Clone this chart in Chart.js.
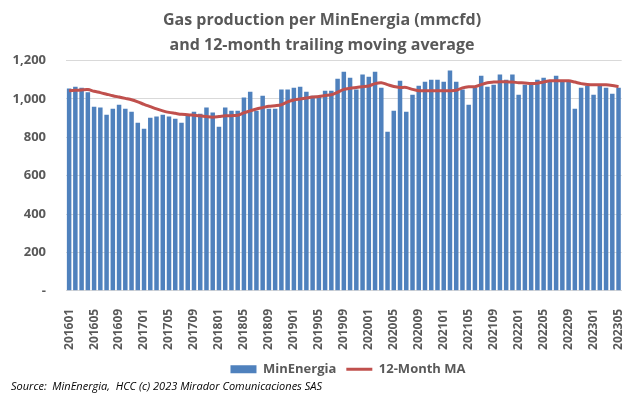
<!DOCTYPE html>
<html lang="en">
<head>
    <meta charset="UTF-8">
    <title>Gas production per MinEnergia</title>
    <script src="https://cdn.jsdelivr.net/npm/chart.js"></script>
    <style>
        body { margin: 0; background: #fff; }
    </style>
</head>
<body>
    <canvas id="gasChart" width="643" height="397"></canvas>
    <script>
        // monthly labels 201601 .. 202305
        const months = [
            '201601','201602','201603','201604','201605','201606','201607','201608','201609','201610','201611','201612',
            '201701','201702','201703','201704','201705','201706','201707','201708','201709','201710','201711','201712',
            '201801','201802','201803','201804','201805','201806','201807','201808','201809','201810','201811','201812',
            '201901','201902','201903','201904','201905','201906','201907','201908','201909','201910','201911','201912',
            '202001','202002','202003','202004','202005','202006','202007','202008','202009','202010','202011','202012',
            '202101','202102','202103','202104','202105','202106','202107','202108','202109','202110','202111','202112',
            '202201','202202','202203','202204','202205','202206','202207','202208','202209','202210','202211','202212',
            '202301','202302','202303','202304','202305'
        ];

        const minEnergia = [
            1054, 1064, 1059, 1035, 960, 955, 918, 949, 970, 949, 934, 876,
            845, 902, 908, 918, 908, 897, 876, 913, 934, 923, 955, 929,
            855, 955, 939, 939, 1007, 1038, 939, 1017, 949, 949, 1049, 1049,
            1059, 1064, 1038, 1017, 1017, 1043, 1043, 1106, 1142, 1111, 1049, 1127,
            1116, 1142, 1059, 829, 939, 1095, 934, 1022, 1069, 1090, 1100, 1100,
            1090, 1148, 1090, 1049, 970, 1059, 1121, 1064, 1074, 1127, 1100, 1127,
            1022, 1074, 1074, 1100, 1111, 1090, 1121, 1090, 1095, 949, 1059, 1069,
            1022, 1069, 1059, 1027, 1059
        ];

        const movingAvg = [
            1043, 1045, 1047, 1049, 1040, 1033, 1025, 1017, 1010, 1003, 996, 985,
            972, 960, 948, 938, 930, 925, 920, 918, 915, 912, 908, 905,
            908, 912, 913, 915, 928, 938, 948, 955, 962, 965, 970, 985,
            995, 1000, 1005, 1010, 1013, 1018, 1022, 1035, 1050, 1056, 1060, 1064,
            1068, 1080, 1085, 1075, 1065, 1060, 1060, 1050, 1043, 1043, 1043, 1043,
            1043, 1043, 1045, 1058, 1064, 1064, 1075, 1085, 1088, 1090, 1090, 1088,
            1085, 1083, 1080, 1082, 1088, 1095, 1095, 1095, 1095, 1088, 1080, 1076,
            1074, 1074, 1074, 1070, 1064
        ];

        const yTicks = [0, 200, 400, 600, 800, 1000, 1200];

        const grey = '#595959';

        // legend sits a little right of centre in the original
        const shiftLegend = {
            id: 'shiftLegend',
            afterLayout(chart) {
                chart.legend.left += 26;
                chart.legend.right += 26;
            }
        };

        const ctx = document.getElementById('gasChart').getContext('2d');

        const gasChart = new Chart(ctx, {
            type: 'bar',
            data: {
                labels: months,
                datasets: [{
                    type: 'line',
                    label: '12-Month MA',
                    data: movingAvg,
                    borderColor: '#C0504D',
                    backgroundColor: '#C0504D',
                    borderWidth: 3,
                    pointRadius: 0,
                    pointStyle: 'line',
                    tension: 0.3,
                    order: 0
                }, {
                    label: 'MinEnergia',
                    data: minEnergia,
                    backgroundColor: '#4F81BD',
                    pointStyle: 'rect',
                    barPercentage: 0.72,
                    categoryPercentage: 1.0,
                    order: 1
                }]
            },
            options: {
                responsive: false,
                animation: false,
                layout: { padding: { left: 11, right: 10, top: 0, bottom: 0 } },
                plugins: {
                    title: {
                        display: true,
                        text: ['Gas production per MinEnergia (mmcfd)', 'and 12-month trailing moving average'],
                        color: grey,
                        font: { family: 'Open Sans', size: 16, weight: 'bold', lineHeight: 1.55 },
                        padding: { top: 8, bottom: 3 }
                    },
                    legend: {
                        position: 'bottom',
                        reverse: true,
                        labels: {
                            color: grey,
                            font: { family: 'Open Sans', size: 13, weight: 'bold' },
                            usePointStyle: true,
                            pointStyleWidth: 26,
                            boxHeight: 8,
                            padding: 10
                        }
                    },
                    subtitle: {
                        display: true,
                        position: 'bottom',
                        align: 'start',
                        text: 'Source:  MinEnergia,  HCC (c) 2023 Mirador Comunicaciones SAS',
                        color: '#000',
                        font: { family: 'Open Sans', size: 11, style: 'italic' },
                        padding: { top: -6, bottom: 4 }
                    },
                    tooltip: { enabled: false }
                },
                scales: {
                    x: {
                        grid: { display: false },
                        border: { color: '#D9D9D9' },
                        afterFit: function (axis) {
                            axis.height = 62;
                        },
                        ticks: {
                            autoSkip: false,
                            maxRotation: 90,
                            minRotation: 90,
                            padding: 10,
                            color: grey,
                            font: { family: 'Open Sans', size: 12, weight: 'bold' },
                            callback: function (val, i) {
                                return i % 4 === 0 ? months[i] : '';
                            }
                        }
                    },
                    y: {
                        min: 0,
                        max: 1200,
                        afterBuildTicks: function (axis) {
                            axis.ticks = yTicks.map(v => ({ value: v }));
                        },
                        afterFit: function (axis) {
                            axis.width = 55;
                        },
                        grid: { color: '#D9D9D9', drawTicks: false },
                        border: { display: false },
                        ticks: {
                            padding: 20,
                            color: grey,
                            font: { family: 'Open Sans', size: 13, weight: 'bold' },
                            callback: function (v) {
                                return v === 0 ? '-' : v.toLocaleString('en-US');
                            }
                        }
                    }
                }
            },
            plugins: [shiftLegend]
        });
    </script>
</body>
</html>
